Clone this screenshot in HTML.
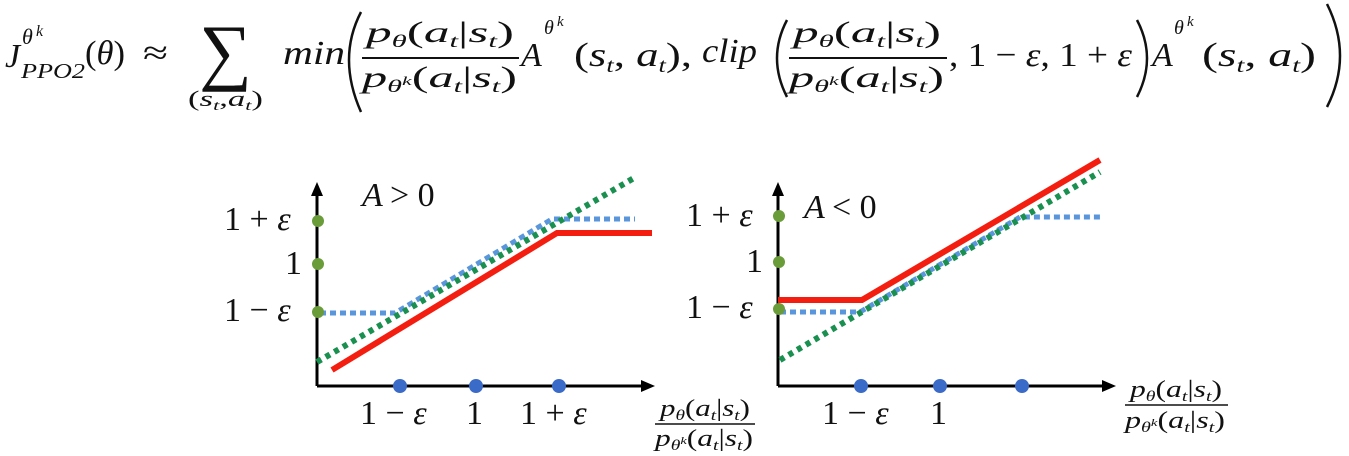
<!DOCTYPE html>
<html><head><meta charset="utf-8"><style>
html,body{margin:0;padding:0;background:#fff;}
svg{display:block;}
text{font-family:"Liberation Serif",serif;fill:#111;}
.i{font-style:italic;}
</style></head><body>
<svg width="1349" height="456" viewBox="0 0 1349 456" xmlns="http://www.w3.org/2000/svg">
<!-- Formula -->
<g font-size="34">
<text x="5" y="67" class="i">J</text>
<text x="22" y="44" font-size="22" class="i">θ</text><text x="36" y="36" font-size="16" class="i">k</text>
<text x="21" y="78" font-size="21" class="i" textLength="64" lengthAdjust="spacingAndGlyphs">PPO2</text>
<text x="85" y="64" textLength="40" lengthAdjust="spacingAndGlyphs">(<tspan class="i">θ</tspan>)</text>
<text x="143" y="64" textLength="25" lengthAdjust="spacingAndGlyphs">≈</text>
<text x="199" y="76" font-size="74">∑</text>
<text x="188" y="106" font-size="22" textLength="75" lengthAdjust="spacingAndGlyphs">(<tspan class="i">s</tspan><tspan font-size="14" class="i" dy="4">t</tspan><tspan dy="-4">,</tspan><tspan class="i">a</tspan><tspan font-size="14" class="i" dy="4">t</tspan><tspan dy="-4">)</tspan></text>
<text x="283" y="64" class="i" textLength="62" lengthAdjust="spacingAndGlyphs">min</text>
<path d="M361,12 Q337,58 361,112" fill="none" stroke="#111" stroke-width="2.5"/>
<text x="366" y="42" font-size="30" textLength="148" lengthAdjust="spacingAndGlyphs"><tspan class="i">p</tspan><tspan class="i" font-size="18" dy="5">θ</tspan><tspan dy="-5">(</tspan><tspan class="i">a</tspan><tspan class="i" font-size="18" dy="5">t</tspan><tspan dy="-5">|</tspan><tspan class="i">s</tspan><tspan class="i" font-size="18" dy="5">t</tspan><tspan dy="-5">)</tspan></text>
<line x1="362" y1="58" x2="519" y2="58" stroke="#111" stroke-width="2"/>
<text x="362" y="87" font-size="30" textLength="155" lengthAdjust="spacingAndGlyphs"><tspan class="i">p</tspan><tspan class="i" font-size="18" dy="5">θ</tspan><tspan class="i" font-size="13" dy="-7">k</tspan><tspan dy="2">(</tspan><tspan class="i">a</tspan><tspan class="i" font-size="18" dy="5">t</tspan><tspan dy="-5">|</tspan><tspan class="i">s</tspan><tspan class="i" font-size="18" dy="5">t</tspan><tspan dy="-5">)</tspan></text>
<text x="521" y="66" class="i">A</text><text x="544" y="34" font-size="20" class="i">θ</text><text x="557" y="26" font-size="15" class="i">k</text>
<text x="574" y="66" textLength="118" lengthAdjust="spacingAndGlyphs">(<tspan class="i">s</tspan><tspan class="i" font-size="20" dy="6">t</tspan><tspan dy="-6">, </tspan><tspan class="i">a</tspan><tspan class="i" font-size="20" dy="6">t</tspan><tspan dy="-6">),</tspan></text>
<text x="702" y="62" class="i" textLength="55" lengthAdjust="spacingAndGlyphs">clip</text>
<path d="M787,20 Q767,58 787,97" fill="none" stroke="#111" stroke-width="2.5"/>
<text x="793" y="42" font-size="30" textLength="148" lengthAdjust="spacingAndGlyphs"><tspan class="i">p</tspan><tspan class="i" font-size="18" dy="5">θ</tspan><tspan dy="-5">(</tspan><tspan class="i">a</tspan><tspan class="i" font-size="18" dy="5">t</tspan><tspan dy="-5">|</tspan><tspan class="i">s</tspan><tspan class="i" font-size="18" dy="5">t</tspan><tspan dy="-5">)</tspan></text>
<line x1="789" y1="58" x2="947" y2="58" stroke="#111" stroke-width="2"/>
<text x="789" y="87" font-size="30" textLength="155" lengthAdjust="spacingAndGlyphs"><tspan class="i">p</tspan><tspan class="i" font-size="18" dy="5">θ</tspan><tspan class="i" font-size="13" dy="-7">k</tspan><tspan dy="2">(</tspan><tspan class="i">a</tspan><tspan class="i" font-size="18" dy="5">t</tspan><tspan dy="-5">|</tspan><tspan class="i">s</tspan><tspan class="i" font-size="18" dy="5">t</tspan><tspan dy="-5">)</tspan></text>
<text x="949" y="66" textLength="183" lengthAdjust="spacingAndGlyphs">, 1 − <tspan class="i">ε</tspan>, 1 + <tspan class="i">ε</tspan></text>
<path d="M1137,20 Q1157,58 1137,97" fill="none" stroke="#111" stroke-width="2.5"/>
<text x="1152" y="66" class="i">A</text><text x="1174" y="34" font-size="20" class="i">θ</text><text x="1187" y="26" font-size="15" class="i">k</text>
<text x="1202" y="66" textLength="114" lengthAdjust="spacingAndGlyphs">(<tspan class="i">s</tspan><tspan class="i" font-size="20" dy="6">t</tspan><tspan dy="-6">, </tspan><tspan class="i">a</tspan><tspan class="i" font-size="20" dy="6">t</tspan><tspan dy="-6">)</tspan></text>
<path d="M1327,4 Q1353,56 1327,107" fill="none" stroke="#111" stroke-width="2.5"/>
</g>

<!-- Left chart -->
<g>
<line x1="317" y1="386" x2="317" y2="192" stroke="#000" stroke-width="3"/>
<polygon points="317,182 311,196 323,196" fill="#000"/>
<line x1="317" y1="386" x2="645" y2="386" stroke="#000" stroke-width="3"/>
<polygon points="655,386 641,380 641,392" fill="#000"/>
<polyline points="332,370 557,233 652,233" fill="none" stroke="#f41e10" stroke-width="6"/>
<polyline points="320,313 395,313 552,219 635,219" fill="none" stroke="#5a96dc" stroke-width="5" stroke-dasharray="6,4"/>
<line x1="317" y1="362" x2="634" y2="178" stroke="#1a9050" stroke-width="6" stroke-dasharray="5,5"/>
<circle cx="318" cy="221" r="6" fill="#6a9c3a"/><circle cx="318" cy="264" r="6" fill="#6a9c3a"/><circle cx="318" cy="312" r="6" fill="#6a9c3a"/>
<circle cx="400" cy="386" r="7" fill="#3a6bc8"/><circle cx="476" cy="386" r="7" fill="#3a6bc8"/><circle cx="559" cy="386" r="7" fill="#3a6bc8"/>
<g font-size="34">
<text x="224" y="230">1 + <tspan class="i">ε</tspan></text>
<text x="285" y="274">1</text>
<text x="224" y="321">1 − <tspan class="i">ε</tspan></text>
<text x="362" y="206" class="i">A</text><text x="390" y="206">&gt; 0</text>
<text x="360" y="424">1 − <tspan class="i">ε</tspan></text>
<text x="466" y="424">1</text>
<text x="520" y="424">1 + <tspan class="i">ε</tspan></text>
</g>
<g font-size="24">
<text x="660" y="416" textLength="90" lengthAdjust="spacingAndGlyphs"><tspan class="i">p</tspan><tspan class="i" font-size="15" dy="4">θ</tspan><tspan dy="-4">(</tspan><tspan class="i">a</tspan><tspan class="i" font-size="15" dy="4">t</tspan><tspan dy="-4">|</tspan><tspan class="i">s</tspan><tspan class="i" font-size="15" dy="4">t</tspan><tspan dy="-4">)</tspan></text>
<line x1="655" y1="424" x2="755" y2="424" stroke="#111" stroke-width="1.5"/>
<text x="655" y="446" textLength="98" lengthAdjust="spacingAndGlyphs"><tspan class="i">p</tspan><tspan class="i" font-size="15" dy="4">θ</tspan><tspan class="i" font-size="11" dy="-6">k</tspan><tspan dy="2">(</tspan><tspan class="i">a</tspan><tspan class="i" font-size="15" dy="4">t</tspan><tspan dy="-4">|</tspan><tspan class="i">s</tspan><tspan class="i" font-size="15" dy="4">t</tspan><tspan dy="-4">)</tspan></text>
</g>
</g>

<!-- Right chart -->
<g>
<line x1="778" y1="386" x2="778" y2="192" stroke="#000" stroke-width="3"/>
<polygon points="778,182 772,196 784,196" fill="#000"/>
<line x1="778" y1="386" x2="1105" y2="386" stroke="#000" stroke-width="3"/>
<polygon points="1116,386 1102,380 1102,392" fill="#000"/>
<polyline points="780,312 860,312 1020,217 1100,217" fill="none" stroke="#5a96dc" stroke-width="5" stroke-dasharray="6,4"/>
<line x1="780" y1="360" x2="1100" y2="172" stroke="#1a9050" stroke-width="6" stroke-dasharray="5,5"/>
<polyline points="778,300 862,300 1100,160" fill="none" stroke="#f41e10" stroke-width="6"/>
<circle cx="779" cy="216" r="6" fill="#6a9c3a"/><circle cx="779" cy="262" r="6" fill="#6a9c3a"/><circle cx="779" cy="309" r="6" fill="#6a9c3a"/>
<circle cx="861" cy="386" r="7" fill="#3a6bc8"/><circle cx="940" cy="386" r="7" fill="#3a6bc8"/><circle cx="1022" cy="386" r="7" fill="#3a6bc8"/>
<g font-size="34">
<text x="686" y="226">1 + <tspan class="i">ε</tspan></text>
<text x="746" y="272">1</text>
<text x="686" y="318">1 − <tspan class="i">ε</tspan></text>
<text x="804" y="218" class="i">A</text><text x="832" y="218">&lt; 0</text>
<text x="822" y="424">1 − <tspan class="i">ε</tspan></text>
<text x="930" y="424">1</text>
</g>
<g font-size="24">
<text x="1130" y="397" textLength="92" lengthAdjust="spacingAndGlyphs"><tspan class="i">p</tspan><tspan class="i" font-size="15" dy="4">θ</tspan><tspan dy="-4">(</tspan><tspan class="i">a</tspan><tspan class="i" font-size="15" dy="4">t</tspan><tspan dy="-4">|</tspan><tspan class="i">s</tspan><tspan class="i" font-size="15" dy="4">t</tspan><tspan dy="-4">)</tspan></text>
<line x1="1125" y1="405" x2="1228" y2="405" stroke="#111" stroke-width="1.5"/>
<text x="1125" y="428" textLength="100" lengthAdjust="spacingAndGlyphs"><tspan class="i">p</tspan><tspan class="i" font-size="15" dy="4">θ</tspan><tspan class="i" font-size="11" dy="-6">k</tspan><tspan dy="2">(</tspan><tspan class="i">a</tspan><tspan class="i" font-size="15" dy="4">t</tspan><tspan dy="-4">|</tspan><tspan class="i">s</tspan><tspan class="i" font-size="15" dy="4">t</tspan><tspan dy="-4">)</tspan></text>
</g>
</g>
</svg>
</body></html>
